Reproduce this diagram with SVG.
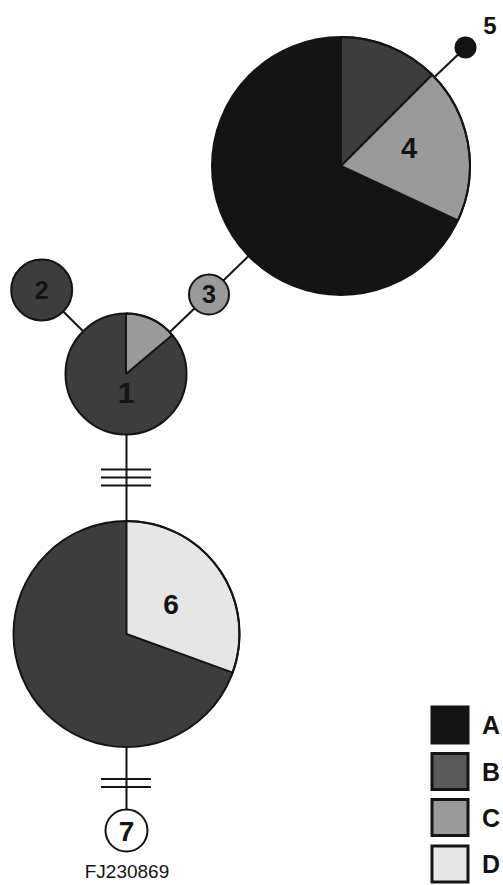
<svg xmlns="http://www.w3.org/2000/svg" width="503" height="885" viewBox="0 0 503 885">
<style>
.bg{fill:#ffffff}
.ln{stroke:#141414;stroke-width:2;fill:none}
.hatch{stroke:#141414;stroke-width:2.2;fill:none}
.ol{fill:none;stroke:#141414;stroke-width:2}
.A{fill:#141414}
.B{fill:#3d3d3d}
.C{fill:#9a9a9a}
.D{fill:#e6e6e6}
.sl{stroke:#141414;stroke-width:2;stroke-linejoin:round}
.lab{font-family:"Liberation Sans",Arial,sans-serif;font-weight:bold;fill:#141414;text-anchor:middle}
.leg{font-family:"Liberation Sans",Arial,sans-serif;font-weight:bold;font-size:25px;fill:#141414}
.sq{stroke:#141414;stroke-width:3}
</style>
<rect class="bg" x="0" y="0" width="503" height="885"/>
<g id="connectors">
<line class="ln" x1="41.7" y1="290" x2="126" y2="374"/>
<line class="ln" x1="126" y1="374" x2="209" y2="294.5"/>
<line class="ln" x1="209" y1="294.5" x2="341" y2="166"/>
<line class="ln" x1="341" y1="166" x2="465.5" y2="47.5"/>
<line class="ln" x1="126.5" y1="374" x2="126.5" y2="830"/>
<g id="hatch-1-6">
<line class="hatch" x1="101" y1="469.5" x2="151" y2="469.5"/>
<line class="hatch" x1="101" y1="477.5" x2="151" y2="477.5"/>
<line class="hatch" x1="101" y1="485.5" x2="151" y2="485.5"/>
</g>
<g id="hatch-6-7">
<line class="hatch" x1="101" y1="779" x2="151" y2="779"/>
<line class="hatch" x1="101" y1="787" x2="151" y2="787"/>
</g>
</g>
<g id="node4">
<circle class="A" cx="341" cy="166" r="129"/>
<path class="B sl" d="M341,166 L341,37 A129,129 0 0 1 432.2,74.8 Z"/>
<path class="C sl" d="M341,166 L432.2,74.8 A129,129 0 0 1 457.9,220.5 Z"/>
<circle class="ol" cx="341" cy="166" r="129"/>
<text class="lab" x="409" y="158" font-size="29">4</text>
</g>
<g id="node5">
<circle class="A" cx="465.5" cy="47.5" r="11"/>
<text class="lab" x="490" y="34" font-size="24">5</text>
</g>
<g id="node3">
<circle class="C" cx="209" cy="294.5" r="20"/>
<circle class="ol" cx="209" cy="294.5" r="20"/>
<text class="lab" x="209" y="303" font-size="25">3</text>
</g>
<g id="node2">
<circle class="B" cx="41.7" cy="290" r="30.5"/>
<circle class="ol" cx="41.7" cy="290" r="30.5"/>
<text class="lab" x="41.7" y="299" font-size="25">2</text>
</g>
<g id="node1">
<circle class="B" cx="126" cy="374" r="60.5"/>
<path class="C sl" d="M126,374 L126,313.5 A60.5,60.5 0 0 1 172.3,335.1 Z"/>
<circle class="ol" cx="126" cy="374" r="60.5"/>
<text class="lab" x="126" y="403" font-size="30">1</text>
</g>
<g id="node6">
<circle class="B" cx="126.5" cy="634" r="113"/>
<path class="D sl" d="M126.5,634 L126.5,521 A113,113 0 0 1 232.7,672.6 Z"/>
<circle class="ol" cx="126.5" cy="634" r="113"/>
<text class="lab" x="171" y="614" font-size="28">6</text>
</g>
<g id="node7">
<circle cx="126.5" cy="830.5" r="21" fill="#ffffff" stroke="#141414" stroke-width="2"/>
<text class="lab" x="126.5" y="840.5" font-size="28">7</text>
<text x="127" y="878" font-family="&quot;Liberation Sans&quot;,Arial,sans-serif" font-size="19" fill="#141414" text-anchor="middle">FJ230869</text>
</g>
<g id="legend">
<rect class="A sq" x="432" y="707" width="36" height="36"/>
<rect class="sq" fill="#5a5a5a" x="432" y="753.5" width="36" height="36"/>
<rect class="C sq" x="432" y="799.5" width="36" height="36"/>
<rect class="D sq" x="432" y="846" width="36" height="36"/>
<text class="leg" x="482" y="734">A</text>
<text class="leg" x="482" y="780.5">B</text>
<text class="leg" x="482" y="826.5">C</text>
<text class="leg" x="482" y="873">D</text>
</g>
</svg>
